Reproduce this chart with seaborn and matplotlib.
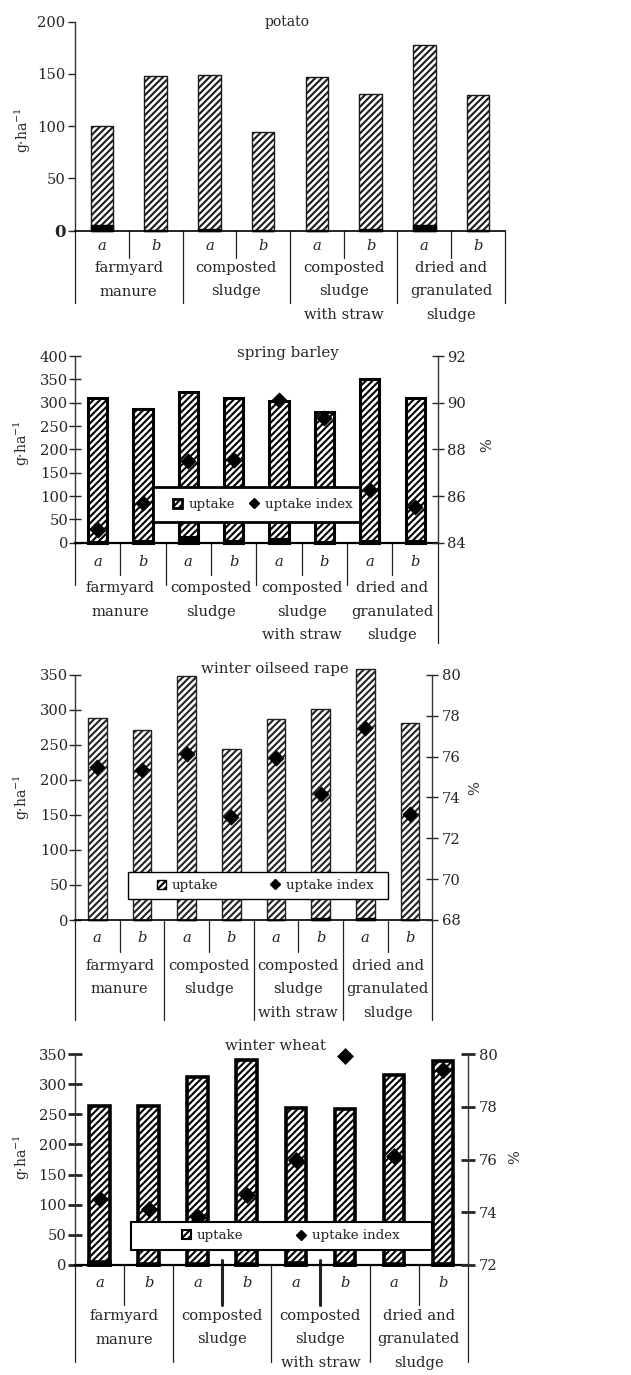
import numpy as np
import pandas as pd
import matplotlib
matplotlib.use("Agg")
import matplotlib.pyplot as plt
import seaborn as sns
from matplotlib.patches import Patch, Rectangle
from matplotlib.lines import Line2D

sns.set_style("white")
plt.rcParams["font.family"] = ["DejaVu Serif"]
plt.rcParams["mathtext.fontset"] = "dejavuserif"
plt.rcParams["hatch.linewidth"] = 1.5

# ---------------- data ----------------
groups = [["farmyard", "manure"],
          ["composted", "sludge"],
          ["composted", "sludge", "with straw"],
          ["dried and", "granulated", "sludge"]]
variants = ["a", "b"]

potato_uptake = [100, 148, 149, 94, 147, 131, 178, 130]
potato_dark = [5.5, 1, 2, 1, 0.5, 1.5, 5.5, 1]

barley_uptake = [310, 286, 322, 310, 303, 281, 350, 310]
barley_dark = [1, 3, 13, 3, 8, 2, 3, 3]
barley_index = [84.55, 85.7, 87.5, 87.55, 90.1, 89.35, 86.25, 85.55]

rape_uptake = [289, 271, 349, 244, 287, 301, 358, 282]
rape_dark = [0.5, 0.5, 0.5, 0.5, 0.5, 3, 3, 0.5]
rape_index = [75.5, 75.33, 76.15, 73.05, 75.92, 74.15, 77.38, 73.21]

wheat_uptake = [263, 263, 312, 340, 260, 258, 315, 338]
wheat_dark = [5, 1, 1, 1, 4, 1, 1, 1]
wheat_index = [74.49, 74.14, 73.83, 74.67, 75.98, 79.93, 76.13, 79.40]

titles = ["potato", "spring barley", "winter oilseed rape", "winter wheat"]
legend_labels = ["uptake", "uptake index"]

# ---------------- layout ----------------
W, H = 631, 1375
fig = plt.figure(figsize=(W / 100, H / 100), dpi=100)

def fx(x):
    return x / W

def fy(y):
    return 1 - y / H

panels = [
    dict(title=titles[0], up=potato_uptake, dark=potato_dark, idx=None,
         box=(75, 505, 21.7, 230.7), ylim=(0, 200), ystep=50,
         tpos=(287, 22), tfs=10, ylab=(23, 130), rlab=None,
         ab=15.3, grp=37.3, seps=[72, 27, 72, 27, 72, 27, 72, 27, 72], thick=[],
         lw=1.0, ec="#1a1a1a", tickdir="out", ticklen=5, tickw=1.0),
    dict(title=titles[1], up=barley_uptake, dark=barley_dark, idx=barley_index,
         box=(75, 437.7, 356, 542.7), ylim=(0, 400), ystep=50,
         rlim=(84, 92), rstep=2,
         tpos=(288, 352.7), tfs=10.8, ylab=(22, 443), rlab=(487, 445),
         ab=19, grp=45.3, seps=[42, 32, 42, 32, 42, 32, 42, 32, 100], thick=[],
         lw=2.2, ec="black", tickdir="inout", ticklen=8, tickw=1.0,
         leg=(153, 487.3, 360, 521.7), leglw=2.0, legx=173, colsp=1.1, ms=60),
    dict(title=titles[2], up=rape_uptake, dark=rape_dark, idx=rape_index,
         box=(75, 432.3, 675, 920), ylim=(0, 350), ystep=50,
         rlim=(68, 80), rstep=2,
         tpos=(275, 669.3), tfs=10.8, ylab=(22, 797), rlab=(475, 788),
         ab=18.3, grp=45.7, seps=[100, 32, 100, 32, 100, 32, 100, 32, 100], thick=[],
         lw=1.0, ec="#222222", tickdir="inout", ticklen=8, tickw=1.0,
         leg=(128.3, 871.7, 388.3, 899), leglw=1.0, legx=156.7, colsp=3.9, ms=60),
    dict(title=titles[3], up=wheat_uptake, dark=wheat_dark, idx=wheat_index,
         box=(75, 467.7, 1054, 1265), ylim=(0, 350), ystep=50,
         rlim=(72, 80), rstep=2,
         tpos=(275, 1046), tfs=10.8, ylab=(22, 1157), rlab=(515, 1157),
         ab=18, grp=51, seps=[97, 40, 97, 40, 97, 40, 97, 40, 97], thick=[3, 5],
         lw=2.6, ec="black", tickdir="inout", ticklen=10, tickw=2.0,
         leg=(130.7, 1221.7, 432.3, 1250), leglw=1.5, legx=181.7, colsp=3.95, ms=66),
]

keys = [" ".join(g) + " " + v for g in groups for v in variants]
FS = 10.6

for p in panels:
    x0, x1, yt, yb = p["box"]
    hpx = yb - yt
    ax = fig.add_axes([fx(x0), fy(yb), (x1 - x0) / W, hpx / H])
    df = pd.DataFrame({"key": keys, "uptake": p["up"], "dark": p["dark"]})
    sns.barplot(data=df, x="key", y="uptake", order=keys, color="white",
                edgecolor=p["ec"], linewidth=p["lw"], hatch="/////", width=0.42,
                saturation=1, errorbar=None, ax=ax, zorder=2)
    sns.barplot(data=df, x="key", y="dark", order=keys, color="black",
                edgecolor="black", linewidth=p["lw"], width=0.42,
                saturation=1, errorbar=None, ax=ax, zorder=2)
    for patch in ax.patches:
        patch.set_clip_on(False)
    n = len(keys)
    ax.set_xlim(-0.5, n - 0.5)
    ax.set_ylim(*p["ylim"])
    ax.set_yticks(np.arange(p["ylim"][0], p["ylim"][1] + 1, p["ystep"]))
    ax.set_xlabel("")
    ax.set_ylabel("")
    ax.tick_params(axis="x", bottom=False, labelbottom=False)
    ax.tick_params(axis="y", left=True, direction=p["tickdir"], length=p["ticklen"],
                   width=p["tickw"], labelsize=FS, pad=2 if p["tickdir"] == "out" else 1)
    for s in ["top", "right"]:
        ax.spines[s].set_visible(False)
    ax.spines["left"].set_color("#333333")
    ax.spines["left"].set_linewidth(1.0)
    ax.spines["bottom"].set_color("black")
    ax.spines["bottom"].set_linewidth(1.2 if p["lw"] < 2 else 1.6)
    ax.patch.set_alpha(0)
    if p["idx"] is None:
        for lab in ax.get_yticklabels():
            if lab.get_text() == "0":
                lab.set_fontweight("bold")
                lab.set_fontsize(12)

    # separators below the axis
    xa = ax.get_xaxis_transform()
    for i, L in enumerate(p["seps"]):
        xs = i - 0.5
        lw = 2.2 if i in p["thick"] else 0.9
        top = 5 / hpx if i in p["thick"] else 0
        ax.plot([xs, xs], [top, -L / hpx], transform=xa, color="#222222",
                lw=lw, clip_on=False, zorder=1)
    # a / b labels and group labels
    for i, k in enumerate(keys):
        ax.annotate(variants[i % 2], xy=(i, 0), xycoords=xa, xytext=(0, -p["ab"]),
                    textcoords="offset pixels", ha="center", va="center",
                    fontsize=FS, style="italic")
    for g, lines in enumerate(groups):
        xc = 2 * g + 0.5
        for j, t in enumerate(lines):
            ax.annotate(t, xy=(xc, 0), xycoords=xa,
                        xytext=(0, -(p["grp"] + 23.5 * j)),
                        textcoords="offset pixels", ha="center", va="center",
                        fontsize=FS)

    fig.text(fx(p["tpos"][0]), fy(p["tpos"][1]), p["title"], ha="center",
             va="center", fontsize=p["tfs"])
    fig.text(fx(p["ylab"][0]), fy(p["ylab"][1]), "g·ha$^{-1}$", rotation=90,
             ha="center", va="center", fontsize=10)

    if p["idx"] is not None:
        ax2 = ax.twinx()
        sns.scatterplot(x=np.arange(n), y=p["idx"], marker="D", s=p["ms"],
                        color="black", edgecolor="black", linewidth=0.5,
                        ax=ax2, zorder=3, legend=False)
        for c in ax2.collections:
            c.set_clip_on(False)
        ax.set_xlim(-0.5, n - 0.5)
        ax2.set_ylim(*p["rlim"])
        ax2.set_yticks(np.arange(p["rlim"][0], p["rlim"][1] + 0.1, p["rstep"]))
        ax2.tick_params(axis="y", right=True, direction=p["tickdir"],
                        length=p["ticklen"], width=p["tickw"], labelsize=FS, pad=3)
        for s in ["top", "left", "bottom"]:
            ax2.spines[s].set_visible(False)
        ax2.spines["right"].set_color("#333333")
        ax2.spines["right"].set_linewidth(1.0)
        ax2.set_ylabel("")
        fig.text(fx(p["rlab"][0]), fy(p["rlab"][1]), "%", rotation=90,
                 ha="center", va="center", fontsize=10.5)

        lx0, ly0, lx1, ly1 = p["leg"]
        rect = Rectangle((fx(lx0), fy(ly1)), (lx1 - lx0) / W, (ly1 - ly0) / H,
                         transform=fig.transFigure, facecolor="white",
                         edgecolor="black", linewidth=p["leglw"], zorder=6)
        fig.add_artist(rect)
        handles = [Patch(facecolor="white", edgecolor="black", hatch="/////",
                         linewidth=p["leglw"]),
                   Line2D([], [], marker="D", color="black", linestyle="none",
                          markersize=5.5)]
        fig.legend(handles, legend_labels, loc="center left",
                   bbox_to_anchor=(fx(p["legx"]), fy((ly0 + ly1) / 2)),
                   bbox_transform=fig.transFigure, ncol=2, frameon=False,
                   borderpad=0, borderaxespad=0, fontsize=9.6,
                   handlelength=0.7, handleheight=0.7, handletextpad=0.45,
                   columnspacing=p["colsp"]).set_zorder(7)

fig.savefig("out.png", dpi=100)
